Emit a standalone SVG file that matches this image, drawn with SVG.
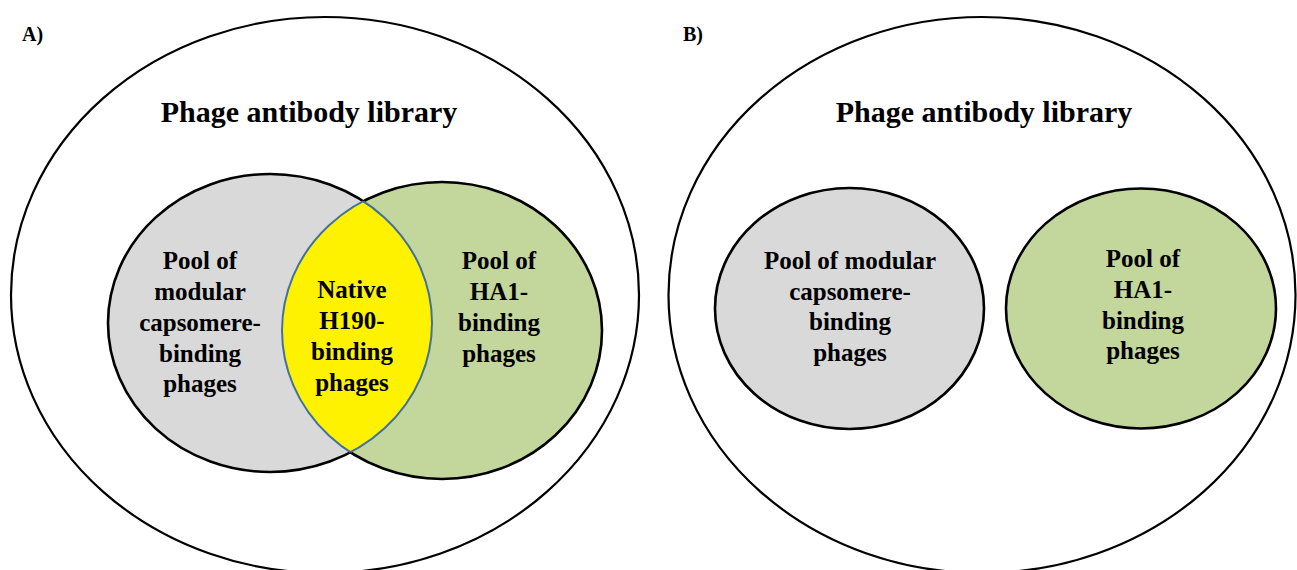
<svg xmlns="http://www.w3.org/2000/svg" width="1297" height="570" viewBox="0 0 1297 570">
  <style>
    .outer { fill: #FFFFFF; stroke: #000000; stroke-width: 2.2; }
    .grayfill { fill: #D9D9D9; }
    .greenfill { fill: #C3D69B; }
    .blk { fill: none; stroke: #000000; stroke-width: 2.6; }
    .blue { fill: none; stroke: #41719C; stroke-width: 2; }
    .title { font-family: "Liberation Serif", "Times New Roman", serif; font-weight: bold; font-size: 30px; fill: #000000; text-anchor: middle; }
    .lbl { font-family: "Liberation Serif", "Times New Roman", serif; font-weight: bold; font-size: 25px; fill: #000000; text-anchor: middle; }
    .panel { font-family: "Liberation Serif", "Times New Roman", serif; font-weight: bold; font-size: 20px; fill: #000000; }
  </style>
  <defs>
    <clipPath id="inGray"><ellipse cx="270" cy="323" rx="162" ry="149"/></clipPath>
    <clipPath id="inGreen"><ellipse cx="442" cy="330.5" rx="160" ry="148.5"/></clipPath>
    <mask id="outGreen" maskUnits="userSpaceOnUse" x="0" y="0" width="1297" height="570">
      <rect x="0" y="0" width="1297" height="570" fill="#FFFFFF"/>
      <ellipse cx="442" cy="330.5" rx="160" ry="148.5" fill="#000000"/>
    </mask>
    <mask id="outGray" maskUnits="userSpaceOnUse" x="0" y="0" width="1297" height="570">
      <rect x="0" y="0" width="1297" height="570" fill="#FFFFFF"/>
      <ellipse cx="270" cy="323" rx="162" ry="149" fill="#000000"/>
    </mask>
  </defs>
  <rect x="0" y="0" width="1297" height="570" fill="#FFFFFF"/>

  <!-- Panel A -->
  <g id="panelA-label"><text class="panel" x="22" y="41">A)</text></g>
  <g id="libraryA">
    <ellipse class="outer" cx="325" cy="295" rx="314" ry="278"/>
    <text class="title" x="309" y="122">Phage antibody library</text>
  </g>
  <g id="capsomereA">
    <ellipse class="grayfill" cx="270" cy="323" rx="162" ry="149"/>
  </g>
  <g id="ha1A">
    <ellipse class="greenfill" cx="442" cy="330.5" rx="160" ry="148.5"/>
  </g>
  <g id="h190A">
    <ellipse cx="442" cy="330.5" rx="160" ry="148.5" fill="#FFF200" clip-path="url(#inGray)"/>
  </g>
  <g id="outlinesA">
    <ellipse class="blk" cx="270" cy="323" rx="162" ry="149" mask="url(#outGreen)"/>
    <ellipse class="blk" cx="442" cy="330.5" rx="160" ry="148.5" mask="url(#outGray)"/>
    <ellipse class="blue" cx="270" cy="323" rx="162" ry="149" clip-path="url(#inGreen)"/>
    <ellipse class="blue" cx="442" cy="330.5" rx="160" ry="148.5" clip-path="url(#inGray)"/>
  </g>
  <g id="capsomereA-text">
    <text class="lbl" x="200" y="269">Pool of</text>
    <text class="lbl" x="200" y="300">modular</text>
    <text class="lbl" x="200" y="331">capsomere-</text>
    <text class="lbl" x="200" y="362">binding</text>
    <text class="lbl" x="200" y="392">phages</text>
  </g>
  <g id="h190A-text">
    <text class="lbl" x="352" y="298">Native</text>
    <text class="lbl" x="352" y="329">H190-</text>
    <text class="lbl" x="352" y="360">binding</text>
    <text class="lbl" x="352" y="391">phages</text>
  </g>
  <g id="ha1A-text">
    <text class="lbl" x="499" y="269">Pool of</text>
    <text class="lbl" x="499" y="300">HA1-</text>
    <text class="lbl" x="499" y="331">binding</text>
    <text class="lbl" x="499" y="362">phages</text>
  </g>

  <!-- Panel B -->
  <g id="panelB-label"><text class="panel" x="683" y="41">B)</text></g>
  <g id="libraryB">
    <ellipse class="outer" cx="982" cy="295" rx="313.5" ry="278"/>
    <text class="title" x="984" y="122">Phage antibody library</text>
  </g>
  <g id="capsomereB">
    <ellipse class="grayfill" cx="849.5" cy="308.5" rx="134.5" ry="120.5" stroke="#000000" stroke-width="2.6"/>
    <text class="lbl" x="850" y="269">Pool of modular</text>
    <text class="lbl" x="850" y="299.5">capsomere-</text>
    <text class="lbl" x="850" y="330">binding</text>
    <text class="lbl" x="850" y="360.5">phages</text>
  </g>
  <g id="ha1B">
    <ellipse class="greenfill" cx="1141" cy="308.5" rx="135" ry="120" stroke="#000000" stroke-width="2.6"/>
    <text class="lbl" x="1143" y="267">Pool of</text>
    <text class="lbl" x="1143" y="298">HA1-</text>
    <text class="lbl" x="1143" y="329">binding</text>
    <text class="lbl" x="1143" y="359">phages</text>
  </g>
  <g id="connectors"></g>
</svg>
